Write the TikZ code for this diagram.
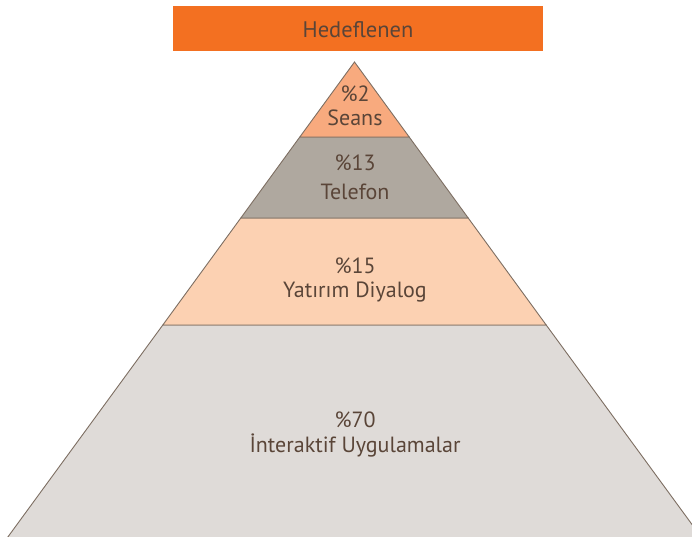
\documentclass[tikz,border=0pt]{standalone}
\usepackage{fontspec}
\setmainfont{PT Sans}
\definecolor{topor}{HTML}{F37021}
\definecolor{seans}{HTML}{F8AA7E}
\definecolor{telef}{HTML}{AFA89F}
\definecolor{yatir}{HTML}{FCD1B2}
\definecolor{inter}{HTML}{DFDBD8}
\definecolor{edge}{HTML}{7D6E62}
\definecolor{txt}{HTML}{5A4538}
\tikzset{
  lvl/.style={draw=edge, line width=0.9pt, line join=miter},
  lbl/.style={text=txt, anchor=base, font=\fontsize{22}{26}\selectfont, inner sep=0pt},
}
\begin{document}
\begin{tikzpicture}[x=1pt,y=-1pt]
\useasboundingbox (0,0) rectangle (692,536);
\begin{scope}
\clip (0,0) rectangle (692,536);
% apex (354.5,62), half-width = 0.729*(y-62)
\path[lvl, fill=inter] (162.8,325) -- (546.2,325) -- (707,545) -- (2,545) -- cycle;
\path[lvl, fill=yatir] (240.8,218) -- (468.2,218) -- (546.2,325) -- (162.8,325) -- cycle;
\path[lvl, fill=telef] (299.8,137) -- (409.2,137) -- (468.2,218) -- (240.8,218) -- cycle;
\path[lvl, fill=seans] (354.5,62) -- (409.2,137) -- (299.8,137) -- cycle;
\end{scope}
\node[fill=topor, minimum width=370pt, minimum height=45pt, inner sep=0pt] (top) at (358,28.5) {};
\node[lbl, font=\fontsize{22.5}{26}\selectfont] (toptext) at (358,37) {Hedeflenen};
\node[lbl] (p1) at (355,101.7) {\%2};
\node[lbl] (t1) at (355,125) {Seans};
\node[lbl] (p2) at (355,170.5) {\%13};
\node[lbl] (t2) at (355,199) {Telefon};
\node[lbl] (p3) at (355,273.3) {\%15};
\node[lbl] (t3) at (355,297.7) {Yatırım Diyalog};
\node[lbl] (p4) at (355,427.3) {\%70};
\node[lbl] (t4) at (355,452.3) {İnteraktif Uygulamalar};
\end{tikzpicture}
\end{document}
